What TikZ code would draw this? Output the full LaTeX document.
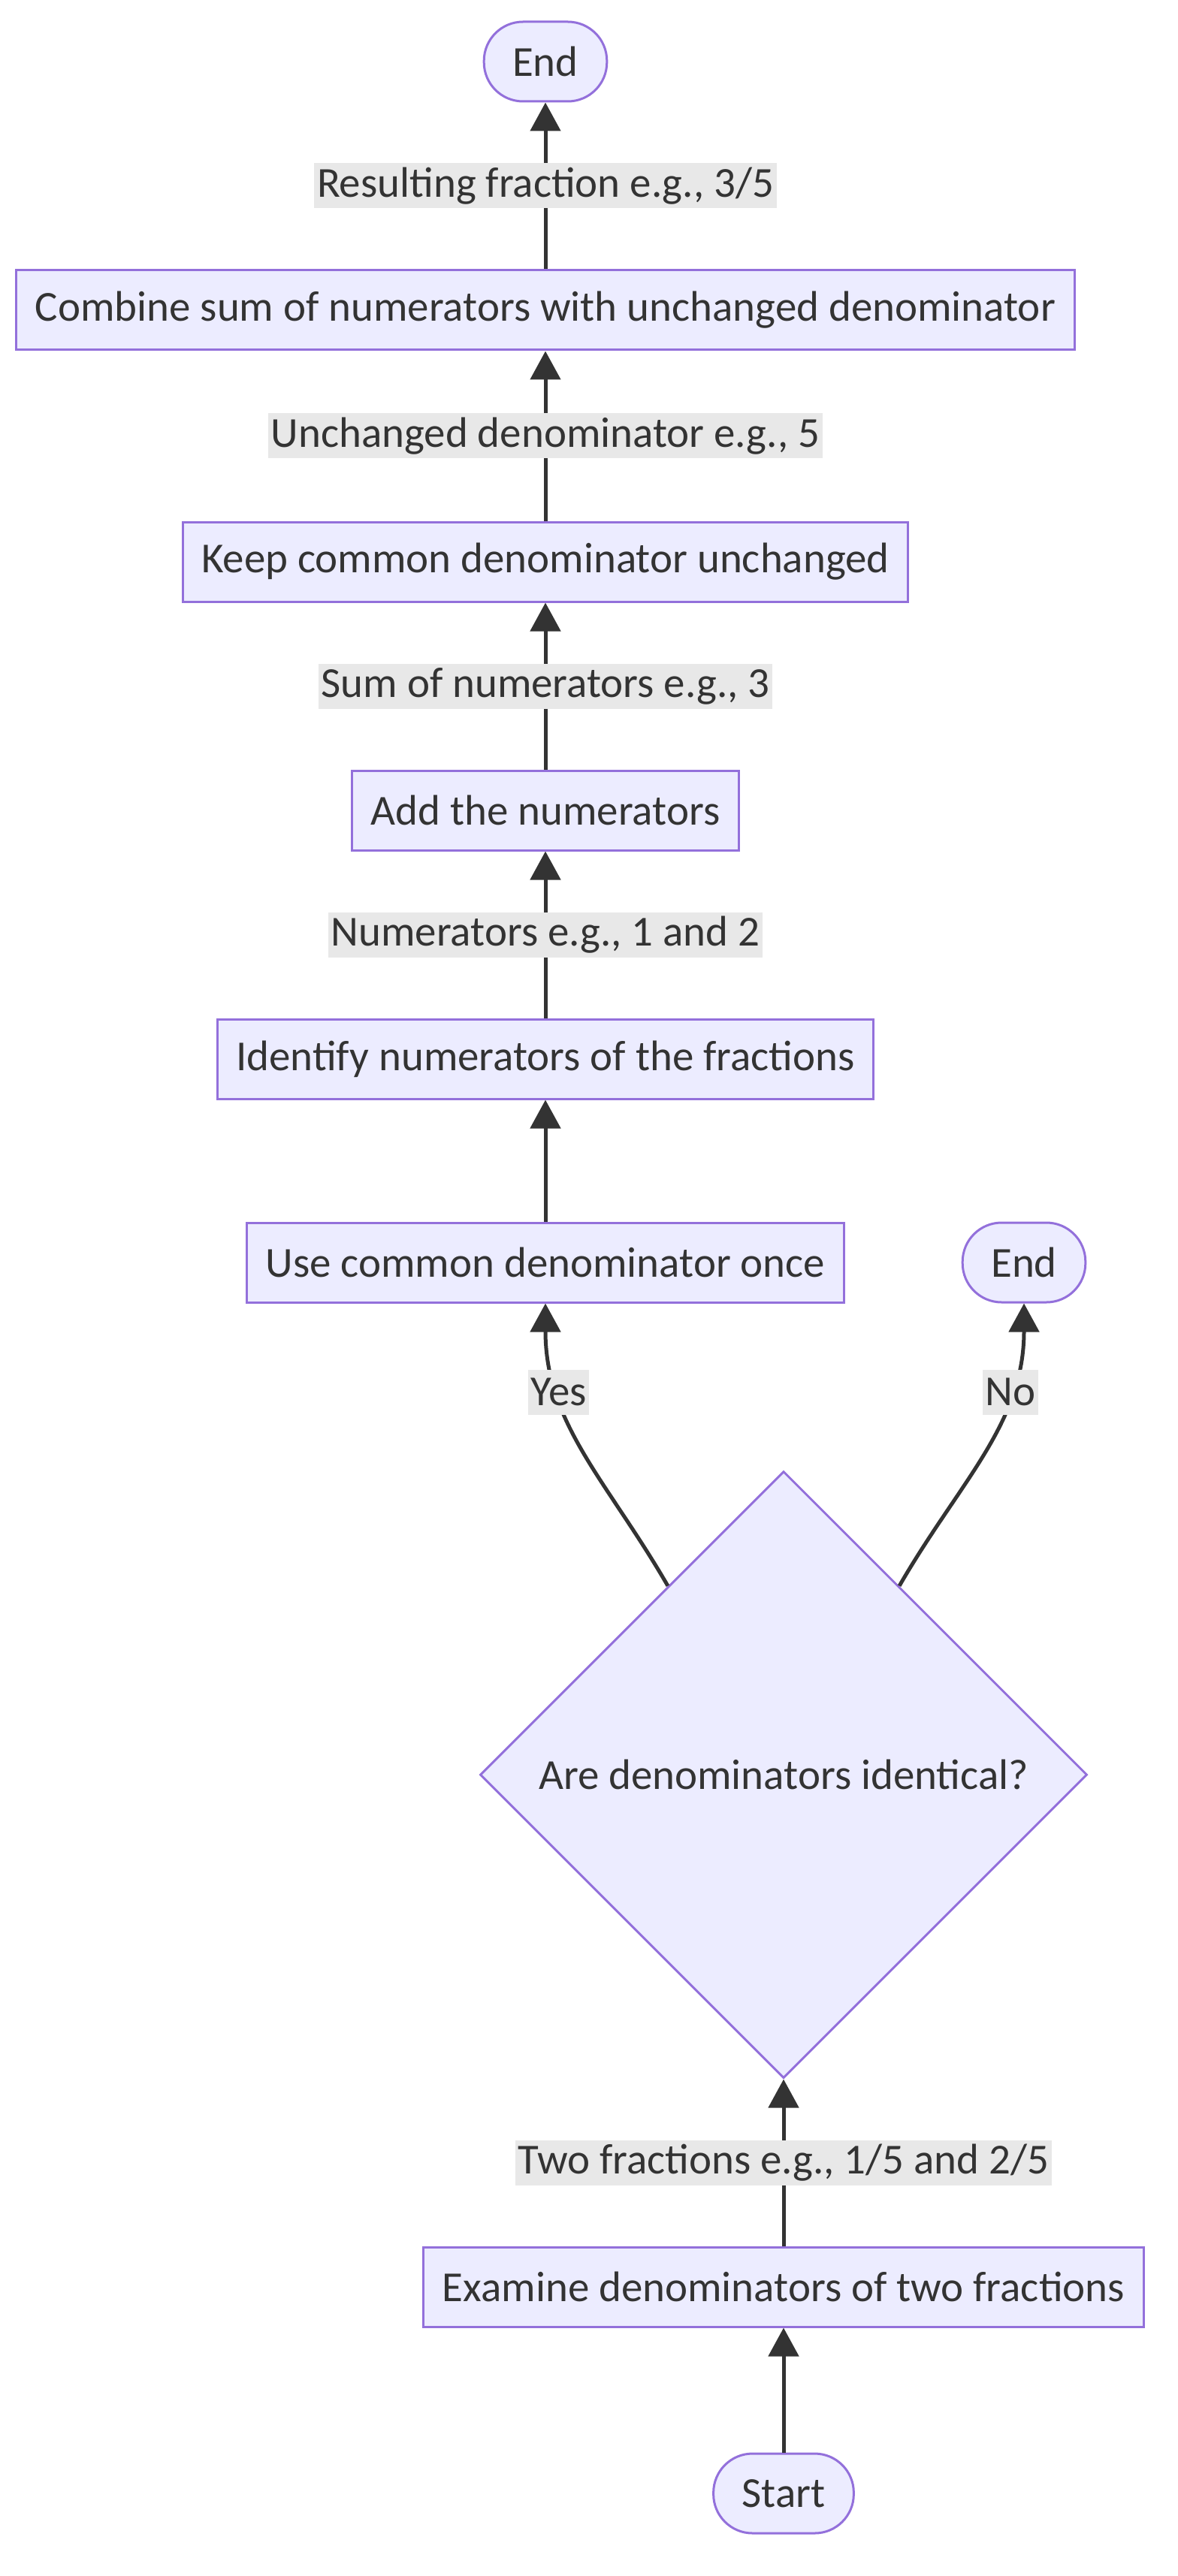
\documentclass[tikz,border=0pt]{standalone}
\usepackage{fontspec}
\setmainfont{Carlito}
\usepackage{tikz}
\usetikzlibrary{positioning, arrows.meta, shapes.geometric, calc}
\usepackage{xcolor}

\definecolor{nodefill}{HTML}{ECECFF}
\definecolor{nodeline}{HTML}{9370DB}
\definecolor{inkc}{HTML}{333333}
\definecolor{labfill}{HTML}{E8E8E8}

\begin{document}
\begin{tikzpicture}[
    font=\fontsize{16.2}{19}\selectfont, text=inkc,
    term/.style={rectangle, draw=nodeline, fill=nodefill, line width=0.03cm, rounded corners=0.52cm, minimum height=1.06cm, inner xsep=0.38cm},
    proc/.style={rectangle, draw=nodeline, fill=nodefill, line width=0.03cm, minimum height=1.06cm, inner xsep=0.25cm},
    dec/.style={diamond, draw=nodeline, fill=nodefill, line width=0.03cm, aspect=1, inner sep=0pt, minimum width=8.08cm, minimum height=8.08cm},
    elab/.style={rectangle, fill=labfill, inner xsep=1pt, inner ysep=0pt, minimum height=0.60cm},
    arr/.style={-{Triangle[length=0.38cm, width=0.40cm]}, line width=0.05cm, draw=inkc}
]
    \useasboundingbox (0,0) rectangle (15.68,-34.30);

    \node[term] (endtop) at (7.26,-0.82) {End};
    \node[proc] (combine) [below=2.22cm of endtop] {Combine sum of numerators with unchanged denominator};
    \node[proc] (keep) [below=2.26cm of combine] {Keep common denominator unchanged};
    \node[proc] (addnum) [below=2.22cm of keep] {Add the numerators};
    \node[proc] (ident) [below=2.22cm of addnum] {Identify numerators of the fractions};
    \node[proc] (useb) [below=1.62cm of ident] {Use common denominator once};
    \node[term] (endno) [right=1.55cm of useb] {End};
    \node[dec] (check) [below=2.22cm of useb, xshift=3.17cm] {Are denominators identical?};
    \node[proc] (exam) [below=2.22cm of check] {Examine denominators of two fractions};
    \node[term] (start) [below=1.66cm of exam] {Start};

    \coordinate (yesout) at ($(check.west)!0.62!(check.north)$);
    \coordinate (noout) at ($(check.east)!0.62!(check.north)$);

    \draw[arr] (start) -- (exam);
    \draw[arr] (exam) -- node[elab] {Two fractions e.g., 1/5 and 2/5} (check);
    \draw[arr] (yesout) to[out=120, in=-90] node[elab, pos=0.72] {Yes} (useb.south);
    \draw[arr] (noout) to[out=60, in=-90] node[elab, pos=0.72] {No} (endno.south);
    \draw[arr] (useb) -- (ident);
    \draw[arr] (ident) -- node[elab] {Numerators e.g., 1 and 2} (addnum);
    \draw[arr] (addnum) -- node[elab] {Sum of numerators e.g., 3} (keep);
    \draw[arr] (keep) -- node[elab] {Unchanged denominator e.g., 5} (combine);
    \draw[arr] (combine) -- node[elab] {Resulting fraction e.g., 3/5} (endtop);
\end{tikzpicture}
\end{document}
